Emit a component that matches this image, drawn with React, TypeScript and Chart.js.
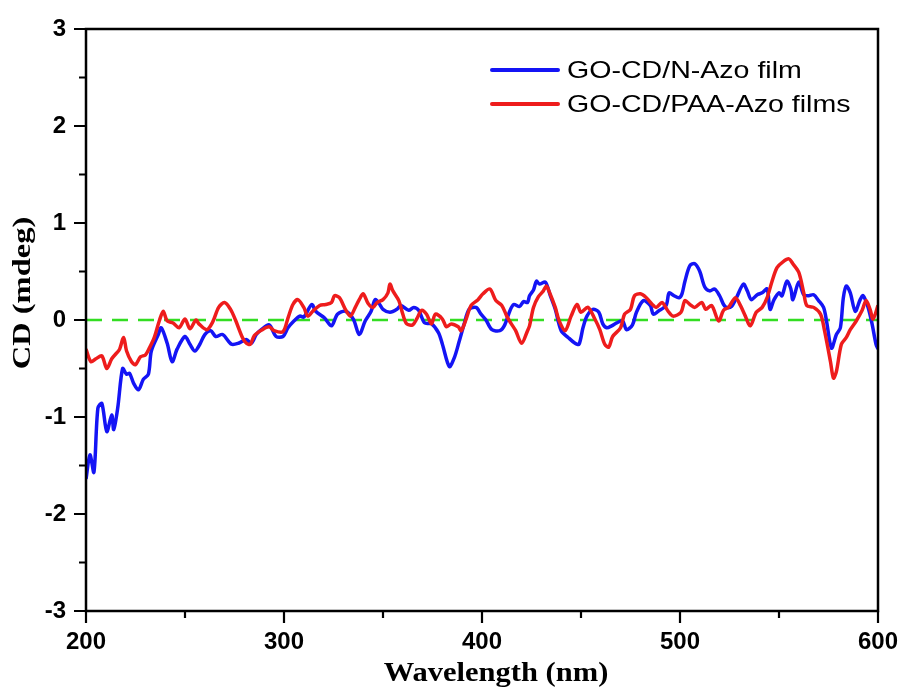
import React, { useEffect, useRef } from 'react';
import { Chart, registerables } from 'chart.js';

Chart.register(...registerables);

// ---- data ----
const seriesLabels = ['GO-CD/N-Azo film', 'GO-CD/PAA-Azo films'];
const xTitle = 'Wavelength (nm)';
const yTitle = 'CD (mdeg)';
const xTickValues = [200, 300, 400, 500, 600];
const yTickValues = [-3, -2, -1, 0, 1, 2, 3];

const blueWavelengths = [
  200, 202, 204, 206, 208, 210.5, 213, 214, 216, 218.5, 220.5, 222, 224, 226.5, 229, 231.5, 233, 236.5, 238, 241,
  243.5, 246, 250, 252.5, 255, 257.5, 260, 263, 265.5, 269, 273.5, 277, 281, 283.5, 286, 288.5, 292.5, 296, 299.5, 302,
  305, 308, 310, 314, 316, 320.5, 324, 327, 331, 335, 338, 341, 344, 346, 348, 350, 353.5, 357, 359, 363,
  365.5, 368, 371, 374.5, 378, 380, 383.5, 386, 388.5, 391, 393.5, 397, 399.5, 402, 405, 409, 411.5, 414, 416, 419,
  421, 423, 424, 426, 427.5, 429, 432, 434.5, 437, 440, 443.5, 447, 449, 451, 453, 456, 459, 461, 463, 465.5,
  468, 471, 473, 476, 478, 481.5, 485, 486.5, 489, 493, 494.5, 497, 499.5, 501, 502.5, 505, 507.5, 510, 512.5, 515,
  517.5, 520, 522, 523.5, 526, 528.5, 532, 534, 536, 539, 541.5, 544, 545.5, 547.5, 550, 551.5, 554, 556, 557, 560,
  562.5, 565, 567.5, 570, 572.5, 574, 576.5, 579, 581, 582.5, 584, 586, 588.5, 591, 592.5, 595, 597, 599, 600,
];
const blueCD = [
  -1.64, -1.39, -1.57, -0.91, -0.86, -1.15, -0.98, -1.13, -0.91, -0.5, -0.56, -0.55, -0.65, -0.72, -0.61, -0.56, -0.32, -0.15, -0.08, -0.24,
  -0.43, -0.3, -0.17, -0.25, -0.32, -0.25, -0.15, -0.11, -0.17, -0.15, -0.25, -0.24, -0.2, -0.24, -0.15, -0.1, -0.05, -0.17, -0.17, -0.08,
  -0.01, 0.04, 0.03, 0.16, 0.09, 0.02, -0.06, 0.06, 0.09, 0.01, -0.15, -0.01, 0.09, 0.21, 0.17, 0.11, 0.08, 0.11, 0.15, 0.1,
  0.13, 0.1, -0.03, -0.04, -0.13, -0.25, -0.48, -0.39, -0.22, -0.04, 0.11, 0.13, 0.06, 0.0, -0.1, -0.11, -0.05, 0.09, 0.16, 0.14,
  0.19, 0.18, 0.25, 0.31, 0.4, 0.37, 0.39, 0.25, 0.11, -0.11, -0.18, -0.24, -0.25, -0.08, 0.04, 0.11, 0.08, -0.04, -0.08, -0.06,
  -0.03, -0.01, -0.1, -0.05, 0.08, 0.2, 0.15, 0.06, 0.09, 0.15, 0.28, 0.25, 0.23, 0.27, 0.4, 0.56, 0.58, 0.5, 0.34, 0.3,
  0.32, 0.25, 0.16, 0.13, 0.14, 0.23, 0.37, 0.3, 0.21, 0.26, 0.28, 0.32, 0.11, 0.21, 0.28, 0.25, 0.4, 0.32, 0.21, 0.39,
  0.26, 0.25, 0.26, 0.2, 0.13, -0.01, -0.29, -0.15, -0.08, 0.23, 0.35, 0.28, 0.09, 0.21, 0.25, 0.13, -0.04, -0.25, -0.3,
];

const redWavelengths = [
  200, 202.5, 205, 208, 210.5, 213, 215.5, 217, 219, 220.5, 223, 225, 227.5, 230, 232, 234.5, 237, 239, 241, 244,
  247, 250, 252.5, 255.5, 257, 261, 264, 267, 270, 273, 275.5, 279, 281, 283, 285, 289, 292.5, 295, 299.5, 302,
  304.5, 307, 310, 312, 314.5, 318, 321, 324, 325.5, 328, 331, 333.5, 336, 338, 340, 342.5, 345, 347, 350, 352.5,
  353.5, 355, 358, 360, 362, 365, 367, 369.5, 372, 374.5, 376.5, 380, 382, 384.5, 388, 389.5, 392, 394.5, 398, 400.5,
  404, 407, 410, 412.5, 414.5, 417, 420, 423, 424, 426, 428.5, 431, 432.5, 434, 437, 439, 442, 445, 448, 450,
  453.5, 457, 459.5, 462, 464, 466, 470, 472, 475, 477, 480, 483, 486, 488, 491, 494, 496.5, 500.5, 502.5, 505,
  507.5, 511, 513, 516, 519.5, 522, 524.5, 528, 530.5, 533, 535.5, 538.5, 541.5, 544, 546.5, 549, 552, 555, 557, 560,
  562.5, 564, 567.5, 571, 573, 576, 577.5, 579, 581.5, 584, 586, 589, 592, 594, 596, 597.5, 600,
];
const redCD = [
  -0.3, -0.43, -0.4, -0.37, -0.5, -0.4, -0.34, -0.3, -0.18, -0.32, -0.43, -0.46, -0.38, -0.36, -0.29, -0.18, -0.01, 0.09, -0.01, -0.03,
  -0.08, 0.01, -0.09, 0.0, -0.04, -0.1, -0.02, 0.13, 0.18, 0.11, 0.0, -0.18, -0.24, -0.25, -0.16, -0.1, -0.07, -0.11, -0.12, 0.02,
  0.16, 0.21, 0.13, 0.04, 0.09, 0.15, 0.16, 0.18, 0.25, 0.23, 0.11, 0.04, 0.13, 0.21, 0.27, 0.17, 0.13, 0.18, 0.21, 0.28,
  0.37, 0.3, 0.2, 0.06, -0.04, -0.05, 0.01, 0.1, 0.06, -0.04, 0.06, 0.01, -0.07, -0.04, -0.07, -0.11, 0.01, 0.15, 0.21, 0.27,
  0.32, 0.2, 0.15, 0.04, -0.03, -0.11, -0.24, -0.11, -0.06, 0.13, 0.24, 0.3, 0.35, 0.29, 0.13, -0.01, -0.11, 0.04, 0.16, 0.08,
  0.13, 0.01, -0.1, -0.25, -0.28, -0.17, -0.08, 0.06, 0.11, 0.25, 0.27, 0.23, 0.16, 0.13, 0.18, 0.09, 0.04, 0.08, 0.2, 0.16,
  0.13, 0.18, 0.11, 0.15, -0.01, 0.1, 0.13, 0.23, 0.15, 0.04, -0.06, 0.08, 0.13, 0.23, 0.4, 0.54, 0.6, 0.63, 0.58, 0.49,
  0.28, 0.15, 0.13, 0.06, -0.11, -0.43, -0.6, -0.53, -0.25, -0.18, -0.1, -0.01, 0.1, 0.2, 0.11, 0.01, 0.15,
];

const zeroLineX = [200, 600];
const zeroLineY = [0, 0];

const BLUE = '#1414f5';
const RED = '#ee1c1c';
const GREEN = '#33dd22';

function toPoints(xs: number[], ys: number[]) {
  return xs.map((x, i) => ({ x, y: ys[i] }));
}

const decorPlugin = {
  id: 'decor',
  afterDraw(chart: any) {
    const { ctx, chartArea } = chart;
    const xs = chart.scales.x;
    const ys = chart.scales.y;
    const { left, right, top, bottom } = chartArea;
    ctx.save();
    ctx.strokeStyle = '#000';
    ctx.lineWidth = 2.5;
    ctx.strokeRect(left, top, right - left, bottom - top);
    // ticks
    ctx.lineWidth = 2.2;
    ctx.beginPath();
    for (let v = xs.min; v <= xs.max + 1e-9; v += 50) {
      const px = xs.getPixelForValue(v);
      const len = v % 100 === 0 ? 12 : 7;
      ctx.moveTo(px, bottom);
      ctx.lineTo(px, bottom + len);
    }
    for (let v = ys.min; v <= ys.max + 1e-9; v += 0.5) {
      const py = ys.getPixelForValue(v);
      const len = Math.abs(v - Math.round(v)) < 1e-9 ? 12 : 7;
      ctx.moveTo(left, py);
      ctx.lineTo(left - len, py);
    }
    ctx.stroke();

    // axis titles
    ctx.fillStyle = '#000';
    ctx.textAlign = 'center';
    ctx.textBaseline = 'middle';
    ctx.save();
    ctx.translate(24, 293);
    ctx.rotate(-Math.PI / 2);
    ctx.scale(1.3, 1);
    ctx.font = 'bold 25px "Liberation Serif", "Times New Roman", serif';
    ctx.fillText(yTitle, 0, 0);
    ctx.restore();

    ctx.save();
    ctx.translate(496, 674);
    ctx.scale(1.13, 1);
    ctx.font = 'bold 27px "Liberation Serif", "Times New Roman", serif';
    ctx.fillText(xTitle, 0, 0);
    ctx.restore();

    // legend
    const colors = [BLUE, RED];
    const rows = [70, 104];
    ctx.lineCap = 'round';
    for (let i = 0; i < seriesLabels.length; i++) {
      ctx.strokeStyle = colors[i];
      ctx.lineWidth = 4;
      ctx.beginPath();
      ctx.moveTo(492, rows[i]);
      ctx.lineTo(558, rows[i]);
      ctx.stroke();
      ctx.save();
      ctx.translate(567, rows[i] + 1);
      ctx.scale(1.19, 1);
      ctx.textAlign = 'left';
      ctx.textBaseline = 'middle';
      ctx.font = '24px "Liberation Sans", Arial, sans-serif';
      ctx.fillStyle = '#000';
      ctx.fillText(seriesLabels[i], 0, 0);
      ctx.restore();
    }
    ctx.restore();
  },
};

export default function App() {
  const canvasRef = useRef<HTMLCanvasElement | null>(null);

  useEffect(() => {
    const canvas = canvasRef.current;
    if (!canvas) return;
    const tickFont = { family: '"Liberation Sans", Arial, sans-serif', weight: 'bold' as const, size: 24 };
    const chart = new Chart(canvas, {
      type: 'line',
      data: {
        datasets: [
          {
            label: 'zero',
            data: toPoints(zeroLineX, zeroLineY),
            borderColor: GREEN,
            borderWidth: 2.5,
            borderDash: [16, 10],
            pointRadius: 0,
            order: 2,
          },
          {
            label: seriesLabels[0],
            data: toPoints(blueWavelengths, blueCD),
            borderColor: BLUE,
            borderWidth: 3.5,
            pointRadius: 0,
            tension: 0.3,
            order: 1,
          },
          {
            label: seriesLabels[1],
            data: toPoints(redWavelengths, redCD),
            borderColor: RED,
            borderWidth: 3.5,
            pointRadius: 0,
            tension: 0.3,
            order: 0,
          },
        ],
      },
      options: {
        responsive: false,
        animation: false,
        events: [],
        layout: { padding: { top: 29, right: 26, left: 0, bottom: 0 } },
        plugins: { legend: { display: false }, tooltip: { enabled: false } },
        scales: {
          x: {
            type: 'linear',
            min: 200,
            max: 600,
            border: { display: false },
            grid: { display: false, drawTicks: false },
            ticks: {
              stepSize: 100,
              padding: 17,
              color: '#000',
              font: tickFont,
              maxRotation: 0,
              callback: (v: any) => (xTickValues.includes(Number(v)) ? String(v) : ''),
            },
            afterFit: (scale: any) => {
              scale.height = 82;
              scale.paddingLeft = 0;
              scale.paddingRight = 0;
            },
          },
          y: {
            type: 'linear',
            min: -3,
            max: 3,
            border: { display: false },
            grid: { display: false, drawTicks: false },
            ticks: {
              stepSize: 1,
              padding: 20,
              color: '#000',
              font: tickFont,
              callback: (v: any) => (yTickValues.includes(Number(v)) ? String(v) : ''),
            },
            afterFit: (scale: any) => {
              scale.width = 86;
              scale.paddingTop = 0;
              scale.paddingBottom = 0;
            },
          },
        },
      },
      plugins: [decorPlugin],
    });
    return () => chart.destroy();
  }, []);

  return (
    <div style={{ position: 'fixed', left: 0, top: 0, width: 904, height: 693, background: '#fff' }}>
      <canvas ref={canvasRef} width={904} height={693} style={{ display: 'block' }} />
    </div>
  );
}
